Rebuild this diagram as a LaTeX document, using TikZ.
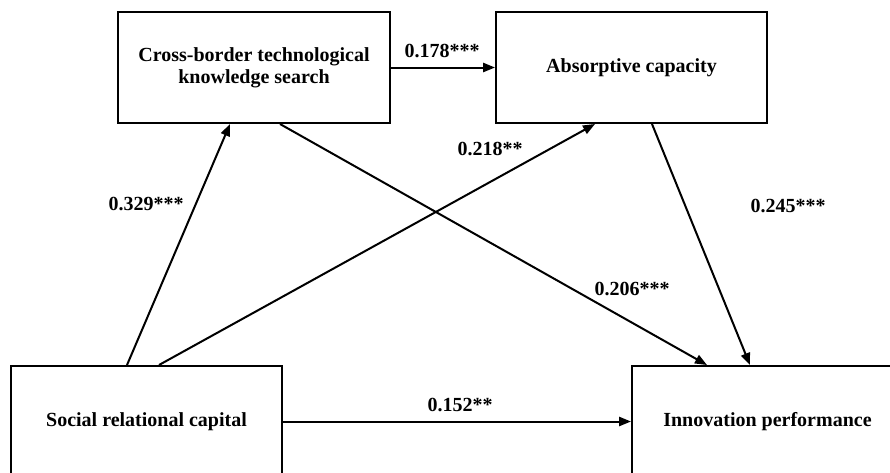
\documentclass[tikz,border=0pt]{standalone}
\usepackage{fontspec}
\setmainfont{Liberation Serif}
\usetikzlibrary{arrows.meta,calc}

\begin{document}
\begin{tikzpicture}[x=0.5pt,y=-0.5pt,
   >={Triangle[length=6pt,width=4.6pt]},
   box/.style={rectangle,draw,line width=1pt,minimum width=135.5pt,
    minimum height=55.5pt,inner sep=+0pt,align=center,
    font=\fontsize{10}{11}\selectfont\bfseries},
   coef/.style={inner sep=+0pt,font=\fontsize{10}{12}\selectfont\bfseries},
   path/.style={->,line width=1pt}
    ]
  \clip (0,0) rectangle (890,472);

  % -- top row
  \node[box,minimum width=136pt] at (254,67.5) (cbs) {Cross-border technological\\knowledge search};
  \node[box] at (631.5,67.5) (abs) {Absorptive capacity};

  % -- bottom row
  \node[box] at (146.5,421.5) (src) {Social relational capital};
  \node[box] at (767.5,421.5) (inp) {Innovation performance};

  % -- paths
  \draw[path] (cbs.east) -- (abs.west);
  \draw[path] (src.east) -- (inp.west);
  \draw[path] ($(src.north)+(-19.5,0)$) -- ($(cbs.south)+(-24,0)$);
  \draw[path] ($(src.north)+(12.5,0)$) -- ($(abs.south)+(-36.5,0)$);
  \draw[path] ($(cbs.south)+(26,0)$) -- ($(inp.north)+(-60.5,0)$);
  \draw[path] ($(abs.south)+(20.5,0)$) -- ($(inp.north)+(-17.5,0)$);

  % -- coefficients
  \node[coef] at (442,51) (c1) {0.178***};
  \node[coef] at (490,149) (c2) {0.218**};
  \node[coef] at (146,204) (c3) {0.329***};
  \node[coef] at (788,206) (c4) {0.245***};
  \node[coef] at (632,289) (c5) {0.206***};
  \node[coef] at (460,405) (c6) {0.152**};

\end{tikzpicture}
\end{document}
